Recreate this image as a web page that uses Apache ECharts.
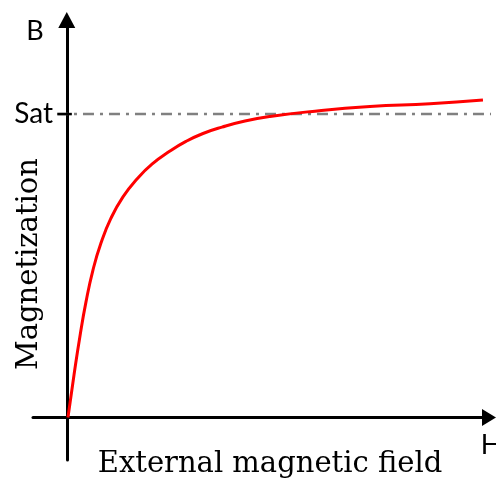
<!DOCTYPE html>
<html>
<head>
<meta charset="utf-8">
<style>
  html, body { margin: 0; padding: 0; background: #fff; }
  #chart { width: 496px; height: 479px; }
</style>
<script src="https://cdn.jsdelivr.net/npm/echarts@6/dist/echarts.min.js"></script>
</head>
<body>
<div id="chart"></div>
<script>
// Magnetization curve: field strength H (arbitrary units) vs magnetization B (saturation = 1)
const hField = [0.028, 0.171, 0.313, 0.455, 0.620, 0.810, 1.047, 1.331, 1.663, 2.018,
                2.444, 2.823, 3.226, 3.676, 4.221, 4.813, 5.760, 7.181, 8.602, 9.857];
const bMag   = [0.000, 0.140, 0.269, 0.381, 0.486, 0.575, 0.657, 0.727, 0.786, 0.835,
                0.878, 0.910, 0.936, 0.957, 0.977, 0.992, 1.008, 1.025, 1.034, 1.046];
const satLevel = 1;
const satLabel = 'Sat';
const satSpan = [-0.232, 10.17];
const satTickSpan = [-0.22, 0.12];
const xRange = [-0.8, 10];
const yRange = [-0.14, 1.31];

const curve = hField.map((h, i) => [h, bMag[i]]);
const satLine = satSpan.map(h => [h, satLevel]);
const satTick = satTickSpan.map(h => [h, satLevel]);

const chart = echarts.init(document.getElementById('chart'), null, { renderer: 'canvas' });

const serif = '"DejaVu Serif", "Liberation Serif", serif';
const sans = 'Lato, "Open Sans", sans-serif';

chart.setOption({
  animation: false,
  backgroundColor: '#fff',
  grid: { left: 33, right: 7, top: 20, bottom: 19, containLabel: false, outerBoundsMode: 'none' },
  xAxis: {
    type: 'value',
    min: xRange[0],
    max: xRange[1],
    axisLine: {
      show: true, onZero: true,
      lineStyle: { color: '#000', width: 3 },
      symbol: ['none', 'triangle'],
      symbolSize: [17, 14]
    },
    axisTick: { show: false },
    axisLabel: { show: false },
    splitLine: { show: false }
  },
  yAxis: {
    type: 'value',
    min: yRange[0],
    max: yRange[1],
    axisLine: {
      show: true, onZero: true,
      lineStyle: { color: '#000', width: 3 },
      symbol: ['none', 'triangle'],
      symbolSize: [17, 16]
    },
    axisTick: { show: false },
    axisLabel: {
      show: true, customValues: [satLevel], margin: -20,
      formatter: () => satLabel,
      color: '#000', fontFamily: sans, fontSize: 28
    },
    splitLine: { show: false }
  },
  series: [
    {
      name: 'saturation',
      type: 'line',
      data: satLine,
      clip: false,
      symbol: 'none',
      silent: true,
      lineStyle: { color: '#808080', width: 2.5, type: [11, 6, 3, 6] },
      z: 3
    },
    {
      name: 'satTick',
      type: 'line',
      data: satTick,
      clip: false,
      symbol: 'none',
      silent: true,
      lineStyle: { color: '#000', width: 2.5 },
      z: 3
    },
    {
      name: 'magnetization',
      type: 'line',
      data: curve,
      smooth: 0.5,
      symbol: 'none',
      lineStyle: { color: '#ff0000', width: 3 },
      z: 4
    }
  ],
  graphic: [
    { type: 'text', x: 35, y: 31,
      style: { text: 'B', font: '27px ' + sans, fill: '#000', align: 'center', verticalAlign: 'middle' } },
    { type: 'text', x: 491, y: 445,
      style: { text: 'H', font: '27px ' + sans, fill: '#000', align: 'center', verticalAlign: 'middle' } },
    { type: 'text', x: 29, y: 264, rotation: Math.PI / 2,
      style: { text: 'Magnetization', font: '29px ' + serif, fill: '#000', align: 'center', verticalAlign: 'middle' } },
    { type: 'text', x: 270, y: 464,
      style: { text: 'External magnetic field', font: '29px ' + serif, fill: '#000', align: 'center', verticalAlign: 'middle' } }
  ]
});
</script>
</body>
</html>
